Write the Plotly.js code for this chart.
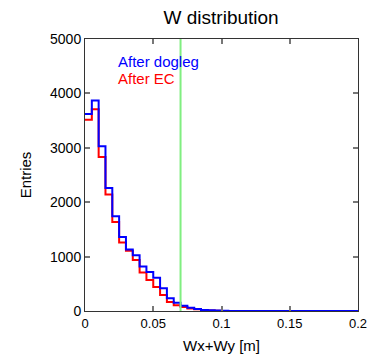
<!DOCTYPE html>
<html>
<head>
<meta charset="utf-8">
<script src="https://cdn.plot.ly/plotly-3.0.1.min.js"></script>
<style>html,body{margin:0;padding:0;background:#fff;}#chart{width:378px;height:357px;}</style>
</head>
<body>
<div id="chart"></div>
<script>
// Histogram bins: width 0.005, from 0 to 0.2
const binWidth = 0.005;
const afterDogleg = [3620, 3870, 3030, 2260, 1740, 1360, 1130, 1025, 820, 718,
  611, 417, 235, 150, 97, 61, 37, 18, 12, 8,
  3, 2, 1, 1, 0, 0, 0, 0, 0, 0, 0, 0, 0, 0, 0, 0, 0, 0, 0, 0];
const afterEC = [3515, 3710, 2830, 2140, 1635, 1260, 1107, 936, 710, 569,
  440, 294, 165, 105, 75, 47, 30, 14, 8, 5,
  2, 1, 1, 0, 0, 0, 0, 0, 0, 0, 0, 0, 0, 0, 0, 0, 0, 0, 0, 0];
const cutValue = 0.07;
const xTicks = [0, 0.05, 0.1, 0.15, 0.2];
const xTickLabels = ['0', '0.05', '0.1', '0.15', '0.2'];
const yTicks = [0, 1000, 2000, 3000, 4000, 5000];

function stepXY(vals) {
  const x = [], y = [];
  vals.forEach((v, i) => { x.push(i * binWidth); y.push(v); });
  x.push(vals.length * binWidth); y.push(vals[vals.length - 1]);
  return {x, y};
}
const ec = stepXY(afterEC), dl = stepXY(afterDogleg);

const font = {family: 'Liberation Sans, Arial, sans-serif', color: '#000'};
const data = [
  {x: ec.x, y: ec.y, type: 'scatter', mode: 'lines', line: {shape: 'hv', color: '#ff0000', width: 2}, name: 'After EC', showlegend: false},
  {x: dl.x, y: dl.y, type: 'scatter', mode: 'lines', line: {shape: 'hv', color: '#0000ff', width: 2}, name: 'After dogleg', showlegend: false}
];
const axisCommon = {
  showgrid: false, zeroline: false, showline: true, linecolor: '#333', linewidth: 1,
  mirror: 'allticks', ticks: 'inside', ticklen: 5, tickcolor: '#777', tickwidth: 2
};
const layout = {
  width: 378, height: 357,
  margin: {l: 85, r: 20, t: 39, b: 46},
  paper_bgcolor: '#fff', plot_bgcolor: '#fff',
  title: {text: 'W distribution', font: Object.assign({size: 19}, font), x: 0.585, xanchor: 'center', y: 0.952, yanchor: 'middle'},
  xaxis: Object.assign({}, axisCommon, {range: [0, 0.2], tickvals: xTicks, ticktext: xTickLabels,
    tickfont: Object.assign({size: 13}, font),
    title: {text: 'Wx+Wy [m]', font: Object.assign({size: 15}, font), standoff: 10}}),
  yaxis: Object.assign({}, axisCommon, {range: [0, 5000], tickvals: yTicks,
    tickfont: Object.assign({size: 14}, font),
    title: {text: 'Entries', font: Object.assign({size: 15}, font), standoff: 14}}),
  shapes: [{type: 'line', xref: 'x', yref: 'paper', x0: cutValue, x1: cutValue, y0: 0, y1: 1,
    line: {color: '#80ee80', width: 2}}],
  annotations: [
    {text: 'After dogleg', xref: 'paper', yref: 'paper', x: 0.115, y: 0.917, xanchor: 'left', yanchor: 'middle', showarrow: false, font: Object.assign({}, font, {size: 15, color: '#0000ff'})},
    {text: 'After EC', xref: 'paper', yref: 'paper', x: 0.115, y: 0.856, xanchor: 'left', yanchor: 'middle', showarrow: false, font: Object.assign({}, font, {size: 15, color: '#ff0000'})}
  ]
};
Plotly.newPlot('chart', data, layout, {staticPlot: true, displayModeBar: false});
</script>
</body>
</html>
